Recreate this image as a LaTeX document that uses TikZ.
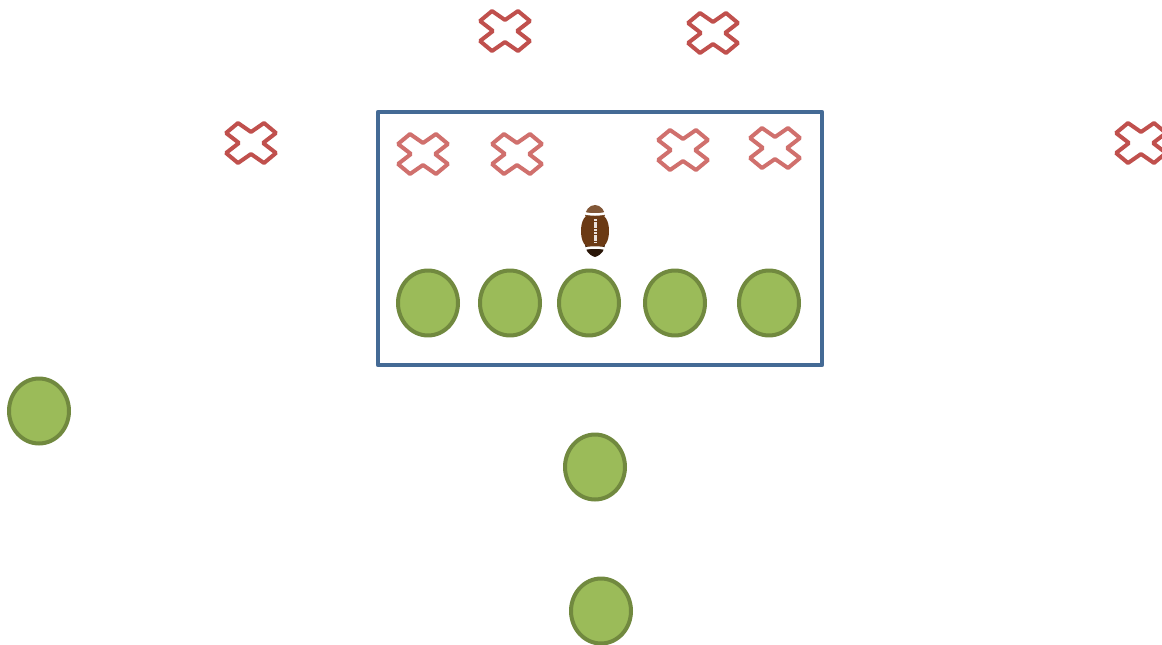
\documentclass[tikz,border=0pt]{standalone}
\usepackage{tikz}
\usetikzlibrary{shapes.geometric}
\definecolor{playerfill}{HTML}{9BBB59}
\definecolor{playerline}{HTML}{71893F}
\definecolor{crossline}{HTML}{C0504D}
\definecolor{crosssoft}{HTML}{D0706D}
\definecolor{boxline}{HTML}{446A95}
\definecolor{ballbrown}{HTML}{6B3A14}
\definecolor{balldark}{HTML}{2A1608}
\begin{document}
\begin{tikzpicture}
  [x=0.02cm,y=-0.02cm,
   player/.style={draw=playerline,fill=playerfill,ellipse,line width=0.08cm,inner sep=0pt,minimum width=1.2cm,minimum height=1.3cm},
   formation/.style={draw=boxline,line width=0.09cm,line join=round},
   xmark/.pic={\draw[line width=0.08cm,line join=bevel,pic actions]
     (-13,-20) -- (0,-11) -- (13,-20) -- (25,-10) -- (12,0) -- (25,10) -- (13,20)
     -- (0,11) -- (-13,20) -- (-25,10) -- (-12,0) -- (-25,-10) -- cycle;}
  ]
  \useasboundingbox (0,0) rectangle (1162,645);

  % line box
  \draw[formation] (378,112) rectangle (822,365);

  % defence
  \foreach \x/\y in {505/31,713/33,251/143,1141/143}
    \pic[draw=crossline] at (\x,\y) {xmark};
  \foreach \x/\y in {423/154,517/154,683/150,775/148}
    \pic[draw=crosssoft] at (\x,\y) {xmark};

  % offence
  \foreach \n/\x/\y in {lt/428/303,lg/510/303,c/589/303,rg/675/303,rt/769/303,wr/39/411,qb/595/467,rb/601/611}
    \node[player] (\n) at (\x,\y) {};

  % ball
  \fill[balldark] (595,257) .. controls (588,255) and (585,249) .. (585,244) -- (605,244) .. controls (605,249) and (602,255) .. (595,257) -- cycle;
  \fill[ballbrown!85!white] (595,205) .. controls (589,205) and (585,211) .. (585,216) -- (605,216) .. controls (605,211) and (601,205) .. (595,205) -- cycle;
  \fill[ballbrown] (595,213) .. controls (584,213) and (581,222) .. (581,231) .. controls (581,240) and (584,249) .. (595,249) .. controls (606,249) and (609,240) .. (609,231) .. controls (609,222) and (606,213) .. (595,213) -- cycle;
  \draw[white,line width=0.05cm] (584,213) .. controls (590,215) and (600,215) .. (606,213);
  \draw[white,line width=0.05cm] (584,249) .. controls (590,247) and (600,247) .. (606,249);
  \draw[white!85!ballbrown,line width=0.06cm,dash pattern=on 0.05cm off 0.015cm] (595,219) -- (595,243);
\end{tikzpicture}
\end{document}
